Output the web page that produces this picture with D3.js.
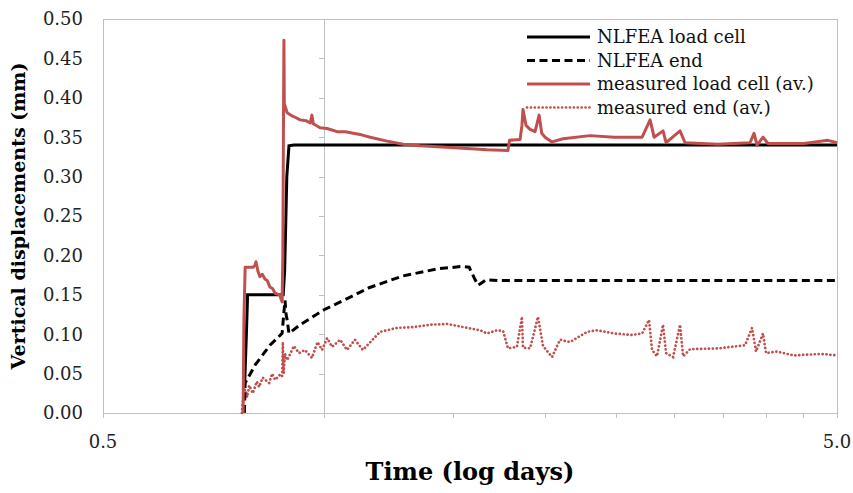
<!DOCTYPE html>
<html>
<head>
<meta charset="utf-8">
<script src="https://cdn.jsdelivr.net/npm/d3@7"></script>
<style>
  body { margin: 0; background: #fff; }
</style>
</head>
<body>
<div id="graph-container"></div>
<script>
// series values: [time (days), displacement (mm)]
const nlfeaLoadCell = [
  [0.780, 0.04], [0.784, 0.10], [0.787, 0.15], [0.880, 0.15],
  [0.884, 0.18], [0.890, 0.30], [0.896, 0.339], [0.91, 0.34], [5.0, 0.34]
];
const nlfeaEnd = [
  [0.779, 0.0], [0.781, 0.038], [0.806, 0.061], [0.844, 0.086], [0.877, 0.101],
  [0.882, 0.128], [0.885, 0.143], [0.888, 0.125], [0.891, 0.118], [0.896, 0.101],
  [0.928, 0.112], [1.0, 0.131], [1.086, 0.147], [1.152, 0.159], [1.282, 0.174],
  [1.430, 0.183], [1.543, 0.186], [1.577, 0.185], [1.605, 0.170], [1.622, 0.162],
  [1.663, 0.169], [1.737, 0.168], [5.0, 0.168]
];
const measuredLoadCell = [
  [0.776, 0.0], [0.778, 0.12], [0.781, 0.185], [0.801, 0.185], [0.806, 0.188],
  [0.808, 0.192], [0.813, 0.180], [0.818, 0.173], [0.824, 0.176], [0.831, 0.170],
  [0.837, 0.168], [0.844, 0.160], [0.851, 0.158], [0.858, 0.152], [0.870, 0.150],
  [0.877, 0.141], [0.879, 0.20], [0.881, 0.39], [0.882, 0.473], [0.883, 0.393],
  [0.891, 0.381], [0.905, 0.377], [0.915, 0.375], [0.928, 0.372], [0.945, 0.371],
  [0.958, 0.368], [0.963, 0.378], [0.967, 0.367], [0.988, 0.362], [1.01, 0.361],
  [1.042, 0.357], [1.07, 0.357], [1.096, 0.355], [1.125, 0.353], [1.156, 0.350],
  [1.219, 0.345], [1.282, 0.341], [1.352, 0.339], [1.430, 0.338], [1.547, 0.336],
  [1.668, 0.334], [1.781, 0.333], [1.790, 0.346], [1.850, 0.347], [1.861, 0.365],
  [1.867, 0.385], [1.885, 0.365], [1.909, 0.360], [1.939, 0.357], [1.964, 0.378],
  [1.980, 0.355], [2.001, 0.350], [2.045, 0.344], [2.117, 0.348], [2.304, 0.352],
  [2.484, 0.350], [2.713, 0.350], [2.782, 0.372], [2.817, 0.350], [2.897, 0.358],
  [2.925, 0.343], [3.056, 0.358], [3.104, 0.343], [3.442, 0.341], [3.806, 0.343],
  [3.854, 0.355], [3.891, 0.340], [3.964, 0.350], [4.027, 0.342], [4.509, 0.342],
  [4.861, 0.346], [5.0, 0.343]
];
const measuredEnd = [
  [0.773, 0.0], [0.776, 0.02], [0.781, 0.03], [0.786, 0.02], [0.791, 0.035],
  [0.800, 0.025], [0.810, 0.040], [0.816, 0.033], [0.825, 0.045], [0.842, 0.038],
  [0.850, 0.050], [0.858, 0.042], [0.870, 0.048], [0.877, 0.046], [0.879, 0.090],
  [0.881, 0.050], [0.885, 0.075], [0.891, 0.067], [0.910, 0.085], [0.925, 0.076],
  [0.942, 0.080], [0.963, 0.070], [0.980, 0.090], [0.994, 0.080], [1.010, 0.095],
  [1.026, 0.084], [1.052, 0.093], [1.075, 0.080], [1.102, 0.093], [1.130, 0.080],
  [1.192, 0.103], [1.258, 0.108], [1.322, 0.109], [1.395, 0.112], [1.471, 0.113],
  [1.547, 0.109], [1.632, 0.105], [1.668, 0.101], [1.721, 0.105], [1.754, 0.104],
  [1.781, 0.082], [1.832, 0.084], [1.861, 0.122], [1.867, 0.083], [1.909, 0.082],
  [1.957, 0.122], [1.988, 0.085], [2.045, 0.071], [2.097, 0.093], [2.164, 0.090],
  [2.283, 0.103], [2.355, 0.105], [2.484, 0.101], [2.629, 0.099], [2.713, 0.101],
  [2.773, 0.118], [2.799, 0.080], [2.843, 0.072], [2.897, 0.112], [2.925, 0.076],
  [2.990, 0.071], [3.056, 0.112], [3.085, 0.072], [3.154, 0.081], [3.442, 0.082],
  [3.747, 0.086], [3.830, 0.108], [3.878, 0.078], [3.964, 0.101], [4.002, 0.076],
  [4.142, 0.078], [4.370, 0.073], [4.755, 0.075], [5.0, 0.073]
];

// tick labels
const xTickLabels = [0.5, 5.0];
const xMinorTicks = [0.5, 1.0, 1.5, 2.0, 2.5, 3.0, 3.5, 4.0, 4.5, 5.0];
const yTicks = [0.00, 0.05, 0.10, 0.15, 0.20, 0.25, 0.30, 0.35, 0.40, 0.45, 0.50];

const seriesNames = ["NLFEA load cell", "NLFEA end", "measured load cell (av.)", "measured end (av.)"];

const red = "#C0504D";
const grid = "#BFBFBF";
const font = "'DejaVu Serif', serif";

let margin = {top: 19, right: 16, bottom: 80, left: 103},
  width = 853 - margin.left - margin.right,
  height = 493 - margin.top - margin.bottom;

let root = d3.select("#graph-container")
  .append("svg")
  .attr("width", 853)
  .attr("height", 493)
  .style("background", "#fff");

let svg = root.append("g")
  .attr("transform", "translate(" + margin.left + "," + margin.top + ")");

let x = d3.scaleLog().domain([0.5, 5]).range([0, width]);
let y = d3.scaleLinear().domain([0, 0.5]).range([height, 0]);

// plot border
svg.append("rect")
  .attr("x", 0).attr("y", 0)
  .attr("width", width).attr("height", height)
  .attr("fill", "none")
  .attr("stroke", grid)
  .attr("stroke-width", 1)
  .attr("shape-rendering", "crispEdges");

// vertical axis crosses at 1.0
let yAxis = svg.append("g")
  .attr("transform", "translate(" + x(1) + ",0)")
  .call(d3.axisLeft(y).tickValues(yTicks).tickSize(5).tickFormat(""));
yAxis.select(".domain").attr("stroke", grid).attr("shape-rendering", "crispEdges");
yAxis.selectAll(".tick line").attr("stroke", grid).attr("shape-rendering", "crispEdges");

// y labels on the low side
svg.append("g")
  .selectAll("text")
  .data(yTicks)
  .enter()
  .append("text")
    .attr("x", -20)
    .attr("y", d => y(d))
    .attr("dy", "0.36em")
    .attr("text-anchor", "end")
    .attr("font-family", font)
    .attr("font-size", 18)
    .attr("fill", "#222")
    .text(d => d.toFixed(2));

// x axis
let xAxis = svg.append("g")
  .attr("transform", "translate(0," + height + ")")
  .call(d3.axisBottom(x).tickValues(xMinorTicks).tickSize(5).tickFormat(""));
xAxis.select(".domain").attr("stroke", grid).attr("shape-rendering", "crispEdges");
xAxis.selectAll(".tick line").attr("stroke", grid).attr("shape-rendering", "crispEdges");

svg.append("g")
  .selectAll("text")
  .data(xTickLabels)
  .enter()
  .append("text")
    .attr("x", d => x(d))
    .attr("y", height + 35)
    .attr("text-anchor", "middle")
    .attr("font-family", font)
    .attr("font-size", 18)
    .attr("fill", "#222")
    .text(d => d.toFixed(1));

// axis titles
svg.append("text")
  .attr("x", width / 2)
  .attr("y", height + 67)
  .attr("text-anchor", "middle")
  .attr("font-family", font)
  .attr("font-weight", "bold")
  .attr("font-size", 24)
  .text("Time (log days)");

svg.append("text")
  .attr("transform", "translate(" + (-78) + "," + (height / 2) + ") rotate(-90)")
  .attr("text-anchor", "middle")
  .attr("font-family", font)
  .attr("font-weight", "bold")
  .attr("font-size", 19)
  .text("Vertical displacements (mm)");

let line = d3.line()
  .x(d => x(d[0]))
  .y(d => y(d[1]));

// lines
svg.append("path")
  .datum(measuredEnd)
  .attr("d", line)
  .attr("fill", "none")
  .attr("stroke", red)
  .attr("stroke-width", 2.7)
  .attr("stroke-linecap", "round")
  .attr("stroke-dasharray", "0.1,3.8");

svg.append("path")
  .datum(nlfeaEnd)
  .attr("d", line)
  .attr("fill", "none")
  .attr("stroke", "#000")
  .attr("stroke-width", 3)
  .attr("stroke-dasharray", "8,4.5");

svg.append("path")
  .datum(nlfeaLoadCell)
  .attr("d", line)
  .attr("fill", "none")
  .attr("stroke", "#000")
  .attr("stroke-width", 3);

svg.append("path")
  .datum(measuredLoadCell)
  .attr("d", line)
  .attr("fill", "none")
  .attr("stroke", red)
  .attr("stroke-width", 3)
  .attr("stroke-linejoin", "round");

// legend
let legendStyles = [
  {stroke: "#000", dash: null, cap: "butt"},
  {stroke: "#000", dash: "8,4.5", cap: "butt"},
  {stroke: red, dash: null, cap: "butt"},
  {stroke: red, dash: "0.1,3.8", cap: "round"}
];
let legend = root.append("g").attr("transform", "translate(527,37)");
let items = legend.selectAll("g")
  .data(seriesNames)
  .enter()
  .append("g")
  .attr("transform", (d, i) => "translate(0," + (i * 23.5) + ")");
items.append("line")
  .attr("x1", 0).attr("x2", 63)
  .attr("y1", 0).attr("y2", 0)
  .attr("stroke", (d, i) => legendStyles[i].stroke)
  .attr("stroke-width", (d, i) => i == 3 ? 2.7 : 3)
  .attr("stroke-linecap", (d, i) => legendStyles[i].cap)
  .attr("stroke-dasharray", (d, i) => legendStyles[i].dash);
items.append("text")
  .attr("x", 70)
  .attr("y", 0)
  .attr("dy", "0.35em")
  .attr("font-family", font)
  .attr("font-size", 18)
  .attr("fill", "#111")
  .text(d => d);
</script>
</body>
</html>
